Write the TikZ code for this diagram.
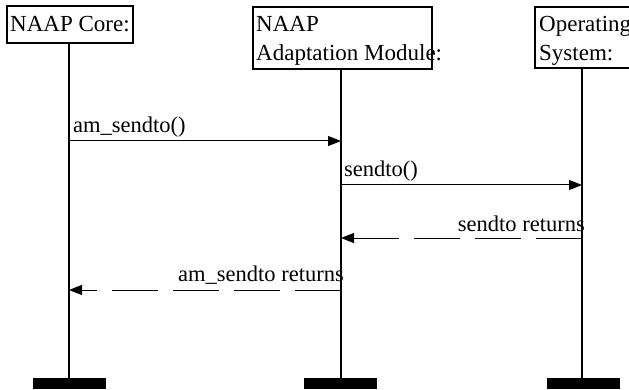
\documentclass[tikz,border=0pt]{standalone}
\usepackage{fontspec}
\setmainfont{Liberation Serif}
\usetikzlibrary{arrows.meta}
\begin{document}
\begin{tikzpicture}[x=1pt,y=-1pt,
  objbox/.style={draw=black,line width=1.4pt},
  objtext/.style={inner sep=0pt,anchor=base west,font=\fontsize{23}{28}\selectfont},
  lifeline/.style={line width=1.6pt},
  endbar/.style={fill=black,draw=none,minimum width=73pt,minimum height=11pt,inner sep=0pt},
  msg/.style={line width=1pt,-{Triangle[length=13pt,width=10pt]}},
  reply/.style={msg,dash pattern=on 46pt off 15pt},
  msgtext/.style={inner sep=0pt,font=\fontsize{22.5}{27}\selectfont}]
  \useasboundingbox (0,0) rectangle (629,390);
  \clip (0,0) rectangle (629,390);

  % object boxes
  \draw[objbox] (7,6) rectangle (133,43);
  \draw[objbox] (253,7) rectangle (432,69);
  \draw[objbox] (535,7) rectangle (640,68);
  \node[objtext] at (10,32) {NAAP Core:};
  \node[objtext] at (256,32) {NAAP};
  \node[objtext] at (256,61) {Adaptation Module:};
  \node[objtext] at (539,32) {Operating};
  \node[objtext] at (539,61) {System:};

  % lifeline anchors and end bars
  \coordinate (c1) at (69,43);
  \coordinate (c2) at (341,69);
  \coordinate (c3) at (582,68);
  \node[endbar] (e1) at (69,383.5) {};
  \node[endbar] (e2) at (340,383.5) {};
  \node[endbar] (e3) at (583,383.5) {};
  \draw[lifeline] (c1) -- (e1.north -| c1);
  \draw[lifeline] (c2) -- (e2.north -| c2);
  \draw[lifeline] (c3) -- (e3.north -| c3);

  % messages
  \coordinate (m1a) at (69,141);  \coordinate (m1b) at (341,141);
  \coordinate (m2a) at (341,185); \coordinate (m2b) at (582,185);
  \coordinate (m3a) at (582,238); \coordinate (m3b) at (341,238);
  \coordinate (m4a) at (341,290); \coordinate (m4b) at (69,290);
  \draw[msg] (m1a) -- (m1b);
  \draw[msg] (m2a) -- (m2b);
  \draw[reply] (m3a) -- (m3b);
  \draw[reply] (m4a) -- (m4b);
  \node[msgtext,anchor=base west] at (73,133) {am\_sendto()};
  \node[msgtext,anchor=base west] at (344,177) {sendto()};
  \node[msgtext,anchor=base east] at (585,232) {sendto returns};
  \node[msgtext,anchor=base east] at (344,281) {am\_sendto returns};
\end{tikzpicture}
\end{document}
